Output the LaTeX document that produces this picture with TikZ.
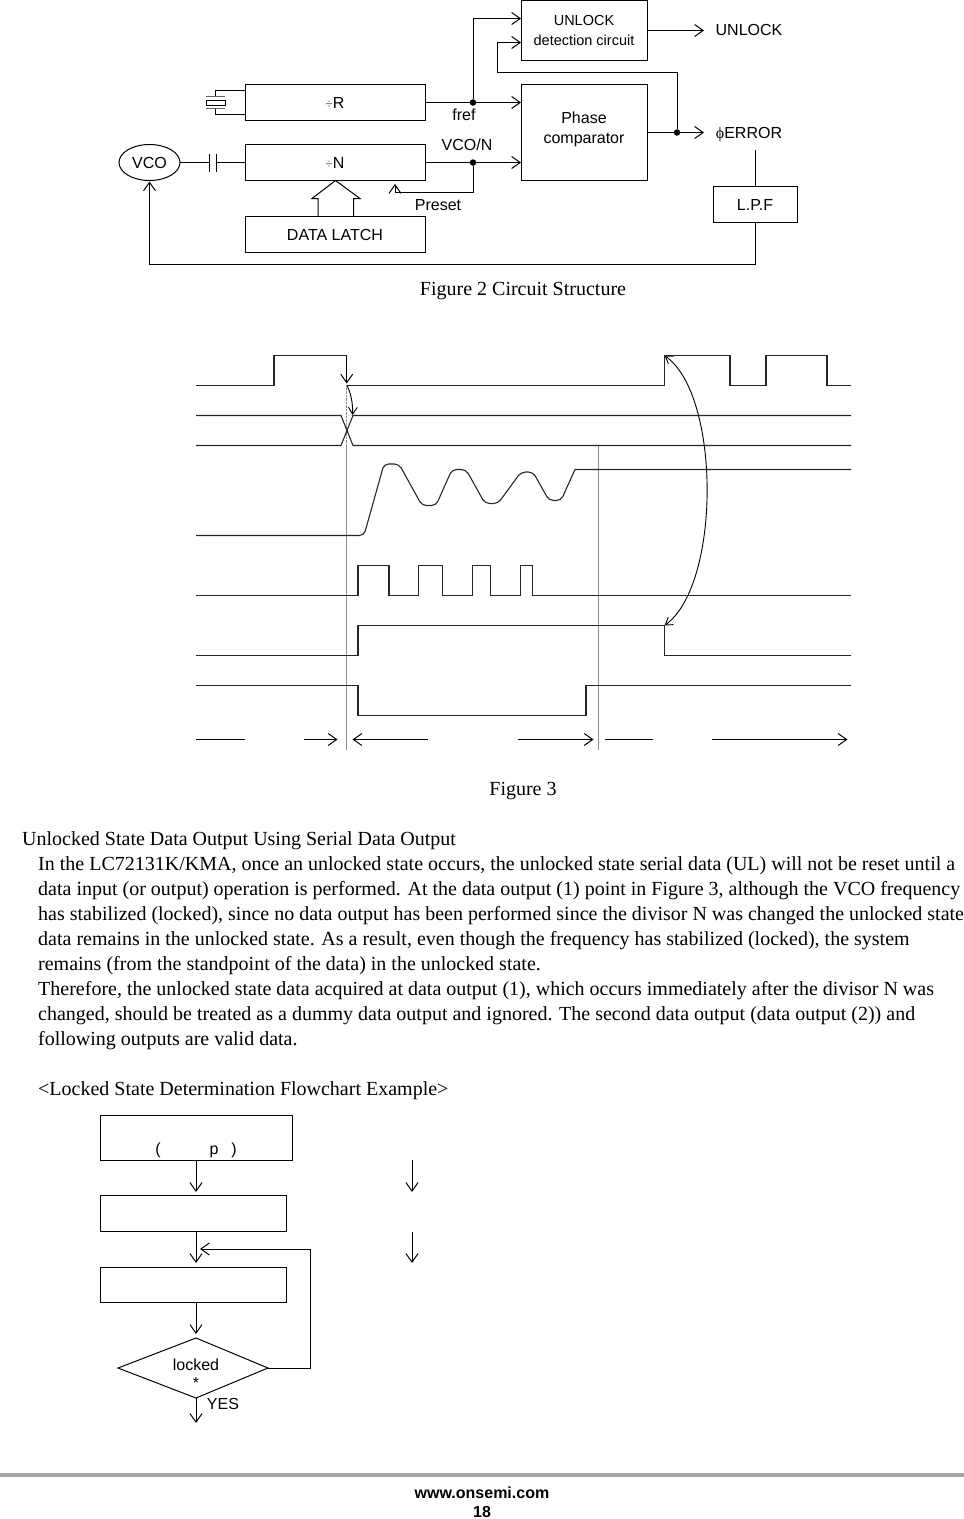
\documentclass[tikz,border=0pt]{standalone}
\usepackage{fontspec}
\setmainfont{Liberation Serif}
\newfontfamily\arialfont{Liberation Sans}
\usetikzlibrary{arrows.meta,shapes.geometric}
\begin{document}
\begin{tikzpicture}[x=1pt,y=-1pt,font=\arialfont\fontsize{16}{20}\selectfont,
  block/.style={draw, line width=1pt, inner sep=0pt, outer sep=0pt, align=center, anchor=north west,
                minimum width=#1},
  junction/.style={circle, fill=black, inner sep=0pt, minimum size=6.5pt},
  label/.style={inner sep=0pt, align=center},
  arrow/.style={->, line width=1pt, >={Straight Barb[length=8.5pt,width=12pt]}},
  curvearrow/.style={line width=0.9pt, >={Straight Barb[length=7pt,width=9pt]}},
  wire/.style={line width=1pt},
  wave/.style={line width=1.1pt, black!85},
  guide/.style={line width=0.4pt, black!45},
  serif/.style={inner sep=0pt, anchor=base west, font=\rmfamily\fontsize{20}{25}\selectfont}
]
  \useasboundingbox (0,0) rectangle (964,1519);
  % circuit structure
  \node[block=126pt, minimum height=60pt, font=\arialfont\fontsize{14.5}{20}\selectfont] (unlockdet) at (521,0.5) {UNLOCK\\detection circuit};
  \node[block=126pt, minimum height=96pt] (phase) at (521,84.5) {Phase\\comparator\\[-11pt]};
  \node[block=180pt, minimum height=36pt] (divr) at (245,84.5) {\textcolor{black!60}{\fontsize{13}{13}\selectfont ÷}R};
  \node[block=180pt, minimum height=36pt] (divn) at (245,144.5) {\textcolor{black!60}{\fontsize{13}{13}\selectfont ÷}N};
  \node[block=180pt, minimum height=36pt] (latch) at (245,216.5) {DATA LATCH};
  \node[block=84pt, minimum height=36pt] (lpf) at (713,186.5) {L.P.F};
  \node[draw, line width=1pt, ellipse, inner sep=0pt, outer sep=0pt, minimum width=61pt, minimum height=36pt] (vco) at (149.5,162.5) {VCO};
  \node[label] (unlockout) at (749,30) {UNLOCK};
  \node[label, anchor=base] (errorout) at (749,138) {{\rmfamily ϕ}ERROR};
  \node[label] (fref) at (464,115) {fref};
  \node[label] (vcon) at (467,145) {VCO/N};
  \node[label] (preset) at (438,205) {Preset};
  \node[junction] (jr) at (473,102.5) {};
  \node[junction] (jn) at (473,162.5) {};
  \node[junction] (je) at (677,132.5) {};
  \coordinate (jrtop) at (473,18.5);
  \coordinate (fbtop) at (497,42.5);
  \coordinate (fbmid) at (497,72.5);
  \coordinate (fbend) at (677,72.5);
  \coordinate (unlocktip) at (704,30.5);
  \coordinate (errortip) at (704,132.5);
  \coordinate (prebend) at (473,192.5);
  \coordinate (pretip) at (395,184);
  \coordinate (vcotip) at (149.5,181.5);
  \coordinate (lpfin) at (755.7,150);
  \coordinate (loopr) at (755.7,264.5);
  \coordinate (loopl) at (149.5,264.5);
  \coordinate (capl) at (209,162.5);
  \coordinate (capr) at (216,162.5);
  \draw[wire] (divr.east) -- (jr);
  \draw[arrow] (jr) -- (phase.west |- jr);
  \draw[arrow] (jr) -- (jrtop) -- (unlockdet.west |- jrtop);
  \draw[arrow] (je) -- (fbend) -- (fbmid) -- (fbtop) -- (unlockdet.west |- fbtop);
  \draw[arrow] (unlockdet.east |- unlocktip) -- (unlocktip);
  \draw[wire] (phase.east |- je) -- (je);
  \draw[arrow] (je) -- (errortip);
  \draw[wire] (divn.east) -- (jn);
  \draw[arrow] (jn) -- (phase.west |- jn);
  \draw[arrow] (jn) -- (prebend) -- (pretip |- prebend) -- (pretip);
  \draw[wire] (lpfin) -- (lpf.north -| lpfin);
  \draw[arrow] (lpf.south -| lpfin) -- (loopr) -- (loopl) -- (vcotip);
  \draw[wire] (vco.east) -- (capl);
  \draw[wire] (capr) -- (divn.west);
  \draw[wire] (capl) ++(0,-9) -- ++(0,18);
  \draw[wire] (capr) ++(0,-9) -- ++(0,18);
  % crystal
  \draw[wire] (245,90.5) -- (215.5,90.5) -- (215.5,96);
  \draw[wire] (245,114.5) -- (215.5,114.5) -- (215.5,108);
  \draw[wire, black!60] (206,96.5) -- (225,96.5);
  \draw[wire, black!60] (206,108) -- (225,108);
  \draw[wire] (206,100) rectangle (225,105);
  % bus arrow from the latch
  \draw[wire] (318,216) -- (318,198.5) -- (312,198.5) -- (335.5,180.5) -- (360,198.5) -- (353.5,198.5) -- (353.5,216);
  \node[serif, anchor=base] (fig2) at (523,295) {Figure 2 Circuit Structure};
  % timing chart
  \draw[guide, densely dotted] (346.5,385) -- (346.5,445);
  \draw[guide] (346.5,445) -- (346.5,750);
  \draw[guide] (597.7,445) -- (597.7,750);
  \draw[wave] (196,385.5) -- (274,385.5) -- (274,355.5) -- (346.7,355.5);
  \draw[wave] (347,385.5) -- (664.5,385.5) -- (664.5,355.5) -- (730,355.5) -- (730,385.5) -- (766,385.5) -- (766,355.5) -- (827,355.5) -- (827,385.5) -- (851,385.5);
  \draw[wave] (196,415.5) -- (341,415.5) -- (353,445.5) -- (851,445.5);
  \draw[wave] (196,445.5) -- (341,445.5) -- (353,415.5) -- (851,415.5);
  \draw[wave, rounded corners=4.5pt] (196,535.5) -- (364,535.5) -- (384,464) -- (399,464) -- (422,505.5) -- (436,505.5) -- (452,469.5) -- (466,469.5) -- (485,503.5) -- (498,503.5) -- (521,472) -- (533,472) -- (549,500.5) -- (561,500.5) [sharp corners] -- (575,469.5) -- (851,469.5);
  \draw[wave] (196,595.5) -- (358,595.5) -- (358,565.5) -- (389,565.5) -- (389,595.5) -- (418.5,595.5) -- (418.5,565.5) -- (442.5,565.5) -- (442.5,595.5) -- (472.5,595.5) -- (472.5,565.5) -- (490.5,565.5) -- (490.5,595.5) -- (520.5,595.5) -- (520.5,565.5) -- (532.5,565.5) -- (532.5,595.5) -- (851,595.5);
  \draw[wave] (196,655.5) -- (358,655.5) -- (358,625.5) -- (664.5,625.5) -- (664.5,655.5) -- (851,655.5);
  \draw[wave] (196,685.5) -- (358,685.5) -- (358,715.5) -- (586,715.5) -- (586,685.5) -- (851,685.5);
  \coordinate (clkfall) at (346.7,355.5);
  \coordinate (clktip) at (346.7,383.5);
  \coordinate (xstart) at (347,385.5);
  \coordinate (xtip) at (352.5,415);
  \coordinate (pulsetop) at (664.5,355.5);
  \coordinate (pulsebot) at (664.5,625.5);
  \draw[arrow] (clkfall) -- (clktip);
  \draw[arrow, curvearrow] (xstart) .. controls (351,393) and (353,404) .. (xtip);
  \draw[curvearrow, <->] (pulsetop) .. controls (721,395) and (721,585) .. (pulsebot);
  \draw[wire] (196,739.5) -- (245,739.5);
  \draw[arrow] (304,739.5) -- (337.5,739.5);
  \draw[arrow] (427.5,739.5) -- (352.5,739.5);
  \draw[arrow] (518,739.5) -- (593.5,739.5);
  \draw[wire] (604.5,739.5) -- (653,739.5);
  \draw[arrow] (712,739.5) -- (847.5,739.5);
  \node[serif, anchor=base] (fig3) at (523,795) {Figure 3};
  % text block
  \node[serif] (heading) at (22,845) {Unlocked State Data Output Using Serial Data Output};
  \node[serif] (line1) at (38,870) {In the LC72131K/KMA, once an unlocked state occurs, the unlocked state serial data (UL) will not be reset until a};
  \node[serif] (line2) at (38,895) {data input (or output) operation is performed. At the data output (1) point in Figure 3, although the VCO frequency};
  \node[serif] (line3) at (38,920) {has stabilized (locked), since no data output has been performed since the divisor N was changed the unlocked state};
  \node[serif] (line4) at (38,945) {data remains in the unlocked state. As a result, even though the frequency has stabilized (locked), the system};
  \node[serif] (line5) at (38,970) {remains (from the standpoint of the data) in the unlocked state.};
  \node[serif] (line6) at (38,995) {Therefore, the unlocked state data acquired at data output (1), which occurs immediately after the divisor N was};
  \node[serif] (line7) at (38,1020) {changed, should be treated as a dummy data output and ignored. The second data output (data output (2)) and};
  \node[serif] (line8) at (38,1045) {following outputs are valid data.};
  \node[serif] (flowtitle) at (38,1095) {<Locked State Determination Flowchart Example>};
  % flowchart
  \node[block=192pt, minimum height=45pt] (start) at (100.5,1115.5) {};
  \node[label, anchor=base] (startopen) at (158,1154) {(};
  \node[label, anchor=base] (startp) at (214,1154) {p};
  \node[label, anchor=base] (startclose) at (234,1154) {)};
  \node[block=186pt, minimum height=36pt] (stepa) at (100.5,1195.5) {};
  \node[block=186pt, minimum height=35pt] (stepb) at (100.5,1267.5) {};
  \coordinate (dtop) at (196,1338);
  \coordinate (dright) at (268,1368);
  \coordinate (dbottom) at (196,1398);
  \coordinate (dleft) at (118,1368);
  \draw[wire] (dtop) -- (dright) -- (dbottom) -- (dleft) -- cycle;
  \node[label] (locked) at (196,1365) {locked};
  \node[label] (star) at (196,1383) {*};
  \node[label] (yes) at (223,1404) {YES};
  \coordinate (atip) at (196,1192);
  \coordinate (btip) at (196,1263);
  \coordinate (ctip) at (196,1334);
  \coordinate (dtip) at (196,1423);
  \coordinate (loopa) at (310.5,1368);
  \coordinate (loopb) at (310.5,1249);
  \coordinate (looptip) at (200,1249);
  \coordinate (reta) at (412,1160);
  \coordinate (retatip) at (412,1192);
  \coordinate (retb) at (412,1231.5);
  \coordinate (retbtip) at (412,1263);
  \draw[arrow] (start.south -| atip) -- (atip);
  \draw[arrow] (stepa.south -| btip) -- (btip);
  \draw[arrow] (stepb.south -| ctip) -- (ctip);
  \draw[arrow] (dbottom) -- (dtip);
  \draw[arrow] (dright) -- (loopa) -- (loopb) -- (looptip);
  \draw[arrow] (reta) -- (retatip);
  \draw[arrow] (retb) -- (retbtip);
  % footer
  \draw[line width=4pt, black!35] (0,1475) -- (964,1475);
  \node[label, font=\arialfont\bfseries\fontsize{16}{20}\selectfont] (site) at (482,1492.5) {www.onsemi.com};
  \node[label, font=\arialfont\bfseries\fontsize{16}{20}\selectfont] (page) at (482,1512) {18};
\end{tikzpicture}
\end{document}
